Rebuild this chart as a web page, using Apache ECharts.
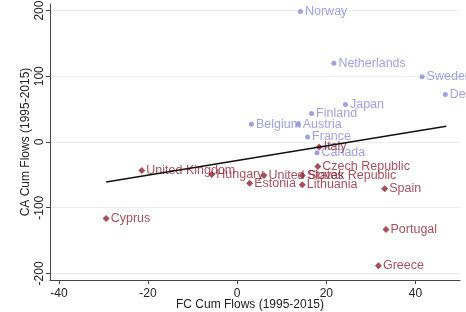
<!DOCTYPE html>
<html>
<head>
<meta charset="utf-8">
<script src="https://cdn.jsdelivr.net/npm/echarts@6/dist/echarts.min.js"></script>
<style>
  html, body { margin: 0; padding: 0; background: #fff; }
  #chart { width: 466px; height: 312px; }
</style>
</head>
<body>
<div id="chart"></div>
<script>
    // surplus countries (blue dots)
    const blueNames = ['Norway', 'Netherlands', 'Sweden', 'Denmark', 'Japan', 'Finland', 'Austria', 'Belgium', 'France', 'Canada'];
    const blueX = [14.2, 21.7, 41.5, 46.7, 24.3, 16.7, 13.7, 3.2, 15.8, 17.9];
    const blueY = [198.5, 119.7, 99.2, 72.4, 57.1, 43.4, 26.6, 27, 7.6, -16.2];

    // deficit countries (red diamonds)
    const redNames = ['Italy', 'Czech Republic', 'Slovak Republic', 'United States', 'Hungary', 'Estonia', 'Lithuania', 'Spain', 'Portugal', 'Greece', 'United Kingdom', 'Cyprus'];
    const redX = [18.4, 18.1, 14.6, 6.0, -5.7, 2.8, 14.6, 33.1, 33.4, 31.7, -21.4, -29.4];
    const redY = [-7.6, -37.1, -50.8, -50.8, -49.3, -62.6, -65, -71.1, -133.3, -188.2, -43.2, -116.5];

    // fitted line end points
    const fitX = [-29.4, 46.9];
    const fitY = [-61, 24];

    const xTicks = [-40, -20, 0, 20, 40];
    const yTicks = [-200, -100, 0, 100, 200];

    const blueColor = '#8b89d8';
    const redColor = '#8c2434';
    const axisColor = '#444';

    function toPoints(names, xs, ys) {
        return names.map((n, i) => ({ name: n, value: [xs[i], ys[i]] }))
    }

    const option = {
        backgroundColor: '#fff',
        animation: false,
        grid: {
            left: 50,
            right: 6,
            top: 4,
            bottom: 32,
            outerBoundsMode: 'none'
        },
        xAxis: {
            type: 'value',
            min: -42,
            max: 50,
            name: 'FC Cum Flows (1995-2015)',
            nameLocation: 'middle',
            nameGap: 19,
            nameMoveOverlap: false,
            nameTextStyle: { fontFamily: 'Liberation Sans', fontSize: 12, color: '#222', padding: [0, 10, 0, 0] },
            axisLine: { show: true, onZero: false, lineStyle: { color: axisColor, width: 1 } },
            axisTick: { show: true, length: 4, customValues: xTicks, lineStyle: { color: axisColor } },
            axisLabel: { customValues: xTicks, margin: 8, fontFamily: 'Liberation Sans', fontSize: 12, color: '#222' },
            splitLine: { show: false }
        },
        yAxis: {
            type: 'value',
            min: -210,
            max: 210,
            name: 'CA Cum Flows (1995-2015)',
            nameLocation: 'middle',
            nameGap: 18,
            nameMoveOverlap: false,
            nameTextStyle: { fontFamily: 'Liberation Sans', fontSize: 12, color: '#222' },
            axisLine: { show: true, onZero: false, lineStyle: { color: axisColor, width: 1 } },
            axisTick: { show: true, length: 4, customValues: yTicks, lineStyle: { color: axisColor } },
            axisLabel: { customValues: yTicks, rotate: 90, margin: 4, fontFamily: 'Liberation Sans', fontSize: 12, color: '#222' },
            splitLine: { show: true, lineStyle: { color: '#ececec', width: 1 } }
        },
        series: [
            {
                name: 'fit',
                type: 'line',
                data: fitX.map((x, i) => [x, fitY[i]]),
                showSymbol: false,
                lineStyle: { color: '#111', width: 1.5 },
                z: 5
            },
            {
                name: 'surplus',
                type: 'scatter',
                data: toPoints(blueNames, blueX, blueY),
                symbol: 'circle',
                symbolSize: 5,
                itemStyle: { color: blueColor },
                label: {
                    show: true,
                    position: 'right',
                    distance: 2,
                    formatter: '{b}',
                    fontFamily: 'Liberation Sans',
                    fontSize: 12.5,
                    color: blueColor
                },
                z: 2
            },
            {
                name: 'deficit',
                type: 'scatter',
                data: toPoints(redNames, redX, redY),
                symbol: 'diamond',
                symbolSize: 7,
                itemStyle: { color: redColor },
                label: {
                    show: true,
                    position: 'right',
                    distance: 1,
                    formatter: '{b}',
                    fontFamily: 'Liberation Sans',
                    fontSize: 12.5,
                    color: redColor
                },
                z: 3
            }
        ]
    };

    const myChart = echarts.init(document.getElementById('chart'))
    myChart.setOption(option)
</script>
</body>
</html>
